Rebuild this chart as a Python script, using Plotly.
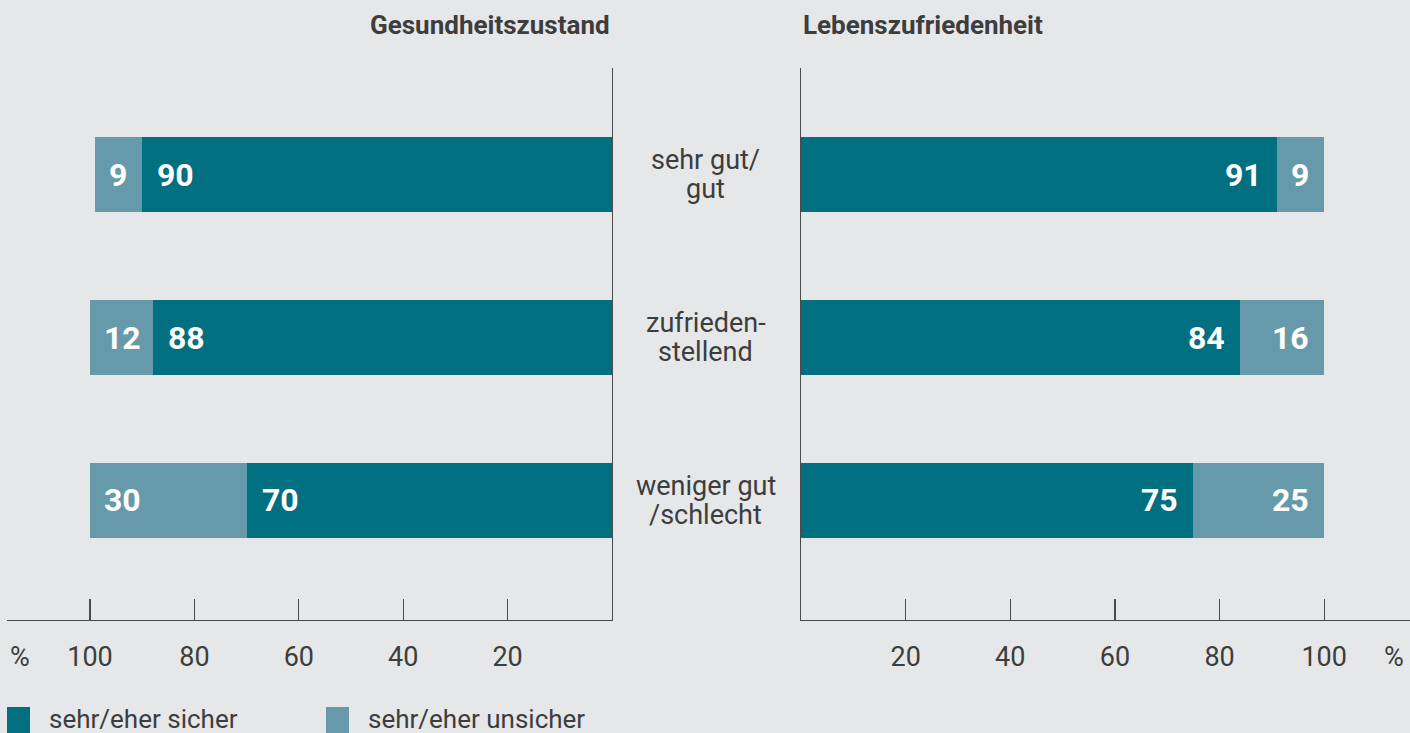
import plotly.graph_objects as go

# ---- data ----
categories = ["sehr gut/<br>gut", "zufrieden-<br>stellend", "weniger gut<br>/schlecht"]
gesund_sicher = [90, 88, 70]
gesund_unsicher = [9, 12, 30]
leben_sicher = [91, 84, 75]
leben_unsicher = [9, 16, 25]
tick_vals = [20, 40, 60, 80, 100]
tick_text = ["20", "40", "60", "80", "100"]
panel_titles = ["Gesundheitszustand", "Lebenszufriedenheit"]
legend_names = ["sehr/eher sicher", "sehr/eher unsicher"]

# ---- style ----
W, H = 1410, 733
BG = "#e6e7e9"
DARK = "#006f80"
LIGHT = "#669aab"
LINE = "#4a4a4a"
TXT = "#3d3d3d"
FONT = "Roboto"

def px(x):
    return x / W

def py(y):
    return (H - y) / H

fig = go.Figure()

# left panel (reversed)
fig.add_trace(go.Bar(y=categories, x=gesund_sicher, orientation="h", marker_color=DARK,
                     marker_line_width=0, xaxis="x", yaxis="y", name=legend_names[0],
                     showlegend=False))
fig.add_trace(go.Bar(y=categories, x=gesund_unsicher, orientation="h", marker_color=LIGHT,
                     marker_line_width=0, xaxis="x", yaxis="y", name=legend_names[1],
                     showlegend=False))
# right panel
fig.add_trace(go.Bar(y=categories, x=leben_sicher, orientation="h", marker_color=DARK,
                     marker_line_width=0, xaxis="x2", yaxis="y2", name=legend_names[0],
                     showlegend=False))
fig.add_trace(go.Bar(y=categories, x=leben_unsicher, orientation="h", marker_color=LIGHT,
                     marker_line_width=0, xaxis="x2", yaxis="y2", name=legend_names[1],
                     showlegend=False))

annotations = []
lab_font = dict(family=FONT, size=32, color="white", weight="bold")
for i, c in enumerate(categories):
    # left panel labels (bar ends are on the left side)
    annotations.append(dict(x=gesund_sicher[i], y=c, xref="x", yref="y", text=str(gesund_sicher[i]),
                            showarrow=False, xanchor="left", xshift=13, font=lab_font))
    annotations.append(dict(x=gesund_sicher[i] + gesund_unsicher[i], y=c, xref="x", yref="y",
                            text=str(gesund_unsicher[i]), showarrow=False, xanchor="left",
                            xshift=12, font=lab_font))
    # right panel labels
    annotations.append(dict(x=leben_sicher[i], y=c, xref="x2", yref="y2", text=str(leben_sicher[i]),
                            showarrow=False, xanchor="right", xshift=-13, font=lab_font))
    annotations.append(dict(x=leben_sicher[i] + leben_unsicher[i], y=c, xref="x2", yref="y2",
                            text=str(leben_unsicher[i]), showarrow=False, xanchor="right",
                            xshift=-13, font=lab_font))
    # category labels in the middle, one annotation per line for tight spacing
    lines = c.split("<br>")
    for k, line in enumerate(lines):
        shift = (len(lines) - 1) / 2 * 29 - k * 29
        annotations.append(dict(x=px(706), y=c, xref="paper", yref="y", text=line, showarrow=False,
                                xanchor="center", yanchor="middle", yshift=shift,
                                font=dict(family=FONT, size=27, color=TXT)))

# titles
annotations.append(dict(x=px(612), y=py(25), xref="paper", yref="paper", text=panel_titles[0],
                        showarrow=False, xanchor="right", yanchor="middle",
                        font=dict(family=FONT, size=26, color=TXT, weight="bold")))
annotations.append(dict(x=px(801), y=py(25), xref="paper", yref="paper", text=panel_titles[1],
                        showarrow=False, xanchor="left", yanchor="middle",
                        font=dict(family=FONT, size=26, color=TXT, weight="bold")))
# percent signs
for xp in (20, 1394):
    annotations.append(dict(x=px(xp), y=py(657), xref="paper", yref="paper", text="%",
                            showarrow=False, xanchor="center", yanchor="middle",
                            font=dict(family=FONT, size=27, color=TXT)))
# legend
shapes = []
for (x0, x1, tx, name, col) in [(7, 30, 47, legend_names[0], DARK), (326, 349, 366, legend_names[1], LIGHT)]:
    shapes.append(dict(type="rect", xref="paper", yref="paper", x0=px(x0), x1=px(x1),
                       y0=py(733), y1=py(707), fillcolor=col, line_width=0))
    annotations.append(dict(x=px(tx), y=py(719), xref="paper", yref="paper", text=name,
                            showarrow=False, xanchor="left", yanchor="middle",
                            font=dict(family=FONT, size=26, color=TXT)))

ydom = [py(620), py(68)]
yrange = [2.738, -0.658]
axis_common = dict(tickvals=tick_vals, ticktext=tick_text, ticks="inside", ticklen=21,
                   tickcolor=LINE, tickwidth=1.3, showline=True, linecolor=LINE, linewidth=1.3,
                   showgrid=False, zeroline=False, fixedrange=True, ticklabelstandoff=12,
                   tickfont=dict(family=FONT, size=27, color=TXT))

fig.update_layout(
    width=W, height=H,
    paper_bgcolor=BG, plot_bgcolor=BG,
    margin=dict(l=0, r=0, t=0, b=0),
    barmode="stack", bargap=0.5385,
    xaxis=dict(domain=[px(7), px(612)], range=[115.9, 0], anchor="y", **axis_common),
    xaxis2=dict(domain=[px(801), 1.0], range=[0, 116.4], anchor="y2", **axis_common),
    yaxis=dict(domain=ydom, range=yrange, type="category", categoryorder="array",
               categoryarray=categories, side="right", anchor="x", showline=True,
               linecolor=LINE, linewidth=1.3, showticklabels=False, ticks="", showgrid=False,
               zeroline=False, fixedrange=True),
    yaxis2=dict(domain=ydom, range=yrange, type="category", categoryorder="array",
                categoryarray=categories, side="left", anchor="x2", showline=True,
                linecolor=LINE, linewidth=1.3, showticklabels=False, ticks="", showgrid=False,
                zeroline=False, fixedrange=True),
    annotations=annotations,
    shapes=shapes,
    showlegend=False,
    hovermode=False,
)

fig.write_html("out.html", config={"displayModeBar": False, "staticPlot": True},
               post_script="document.body.style.margin='0';document.body.style.overflow='hidden';")
